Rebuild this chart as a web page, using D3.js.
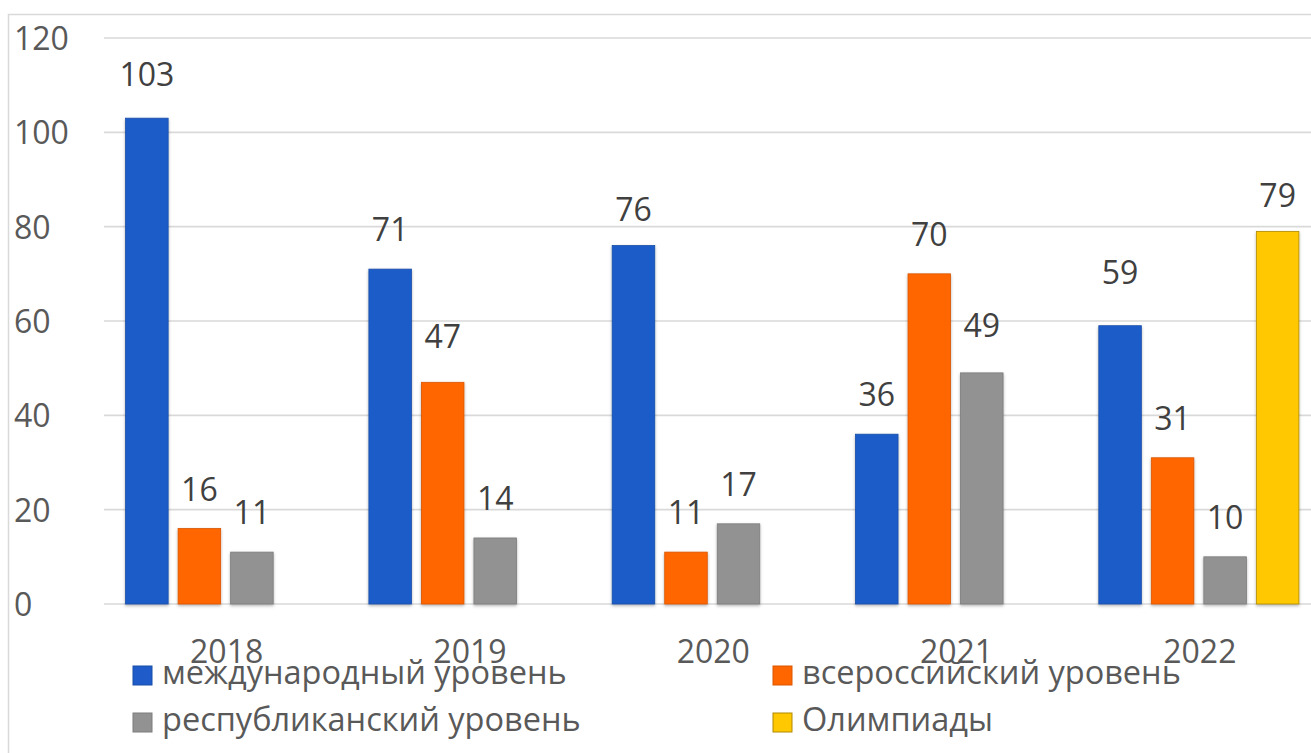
<!DOCTYPE html>
<html>
<head>
<meta charset="utf-8">
<script src="https://cdn.jsdelivr.net/npm/d3@7"></script>
<style>
  html, body { margin: 0; padding: 0; background: #fff; }
  svg { display: block; font-family: "Open Sans", "Noto Sans", sans-serif; }
</style>
</head>
<body>
<div id="chart"></div>
<script>
// data
var years = ["2018", "2019", "2020", "2021", "2022"];
var seriesNames = ["международный уровень", "всероссийский уровень", "республиканский уровень", "Олимпиады"];
var intl = [103, 71, 76, 36, 59];
var allRus = [16, 47, 11, 70, 31];
var republic = [11, 14, 17, 49, 10];
var olymp = [null, null, null, null, 79];
var yTicks = [0, 20, 40, 60, 80, 100, 120];

var seriesValues = [intl, allRus, republic, olymp];
var colors = ["#1f5cc9", "#ff6600", "#929292", "#ffc800"];
var strokes = ["#1a4ea8", "#d85600", "#7c7c7c", "#b08a00"];

// labels that Excel put a little higher / lower than the rest
var labelNudge = { "0|0": 4, "1|1": 6, "2|3": 8, "0|4": 14, "3|4": -4, "0|2": -3 };

var W = 1311, H = 753;
var svg = d3.select("#chart").append("svg")
    .attr("width", W)
    .attr("height", H);

var defs = svg.append("defs");
var f = defs.append("filter").attr("id", "shadow")
    .attr("x", "-20%").attr("y", "-20%").attr("width", "140%").attr("height", "140%");
f.append("feDropShadow")
    .attr("dx", 0).attr("dy", 1.5)
    .attr("stdDeviation", 1.5)
    .attr("flood-color", "#000")
    .attr("flood-opacity", 0.3);

// outer frame
svg.append("rect")
    .attr("x", 8.5).attr("y", 14.5)
    .attr("width", 1330).attr("height", 760)
    .attr("fill", "none")
    .attr("stroke", "#d9d9d9")
    .attr("stroke-width", 1.5);

var y = d3.scaleLinear().domain([0, 120]).range([604, 38]);
var x0 = d3.scaleBand().domain(years).range([104, 1320.5]);
var x1 = d3.scaleBand().domain(d3.range(seriesNames.length))
    .range([21.6, x0.bandwidth() - 21.6])
    .paddingInner(0.19);

// gridlines
svg.append("g").selectAll("line")
    .data(yTicks)
    .enter().append("line")
    .attr("x1", 104).attr("x2", W)
    .attr("y1", function(d) { return y(d); })
    .attr("y2", function(d) { return y(d); })
    .attr("stroke", "#d9d9d9")
    .attr("stroke-width", 1.6);

// y tick labels
svg.append("g").selectAll("text")
    .data(yTicks)
    .enter().append("text")
    .attr("x", 14)
    .attr("y", function(d) { return y(d) + 12; })
    .attr("font-size", 32)
    .attr("fill", "#595959")
    .text(function(d) { return d; });

// bars
var cells = [];
seriesValues.forEach(function(vals, s) {
    vals.forEach(function(v, i) {
        if (v != null) cells.push({ s: s, i: i, v: v });
    });
});

svg.append("g").selectAll("rect")
    .data(cells)
    .enter().append("rect")
    .attr("x", function(d) { return x0(years[d.i]) + x1(d.s); })
    .attr("y", function(d) { return y(d.v); })
    .attr("width", x1.bandwidth())
    .attr("height", function(d) { return y(0) - y(d.v); })
    .attr("fill", function(d) { return colors[d.s]; })
    .attr("stroke", function(d) { return strokes[d.s]; })
    .attr("stroke-width", 0.8)
    .attr("filter", "url(#shadow)");

// value labels
svg.append("g").selectAll("text")
    .data(cells)
    .enter().append("text")
    .attr("x", function(d) { return x0(years[d.i]) + x1(d.s) + x1.bandwidth() / 2; })
    .attr("y", function(d) { return y(d.v) - 28 - (labelNudge[d.s + "|" + d.i] || 0); })
    .attr("text-anchor", "middle")
    .attr("font-size", 32)
    .attr("fill", "#404040")
    .text(function(d) { return d.v; });

// x axis labels
svg.append("g").selectAll("text")
    .data(years)
    .enter().append("text")
    .attr("x", function(d) { return x0(d) + x0.bandwidth() / 2 + 1; })
    .attr("y", 663)
    .attr("text-anchor", "middle")
    .attr("font-size", 32)
    .attr("fill", "#595959")
    .text(function(d) { return d; });

// legend, two columns
var legendX = [133, 773], legendY = [666, 713];
var leg = svg.append("g").selectAll("g")
    .data(seriesNames)
    .enter().append("g")
    .attr("transform", function(d, k) {
        return "translate(" + legendX[k % 2] + "," + legendY[Math.floor(k / 2)] + ")";
    });
leg.append("rect")
    .attr("width", 19).attr("height", 19)
    .attr("fill", function(d, k) { return colors[k]; })
    .attr("stroke", function(d, k) { return strokes[k]; })
    .attr("stroke-width", 1);
leg.append("text")
    .attr("x", 29)
    .attr("y", 18)
    .attr("font-size", 32.5)
    .attr("fill", "#595959")
    .text(function(d) { return d; });
</script>
</body>
</html>
